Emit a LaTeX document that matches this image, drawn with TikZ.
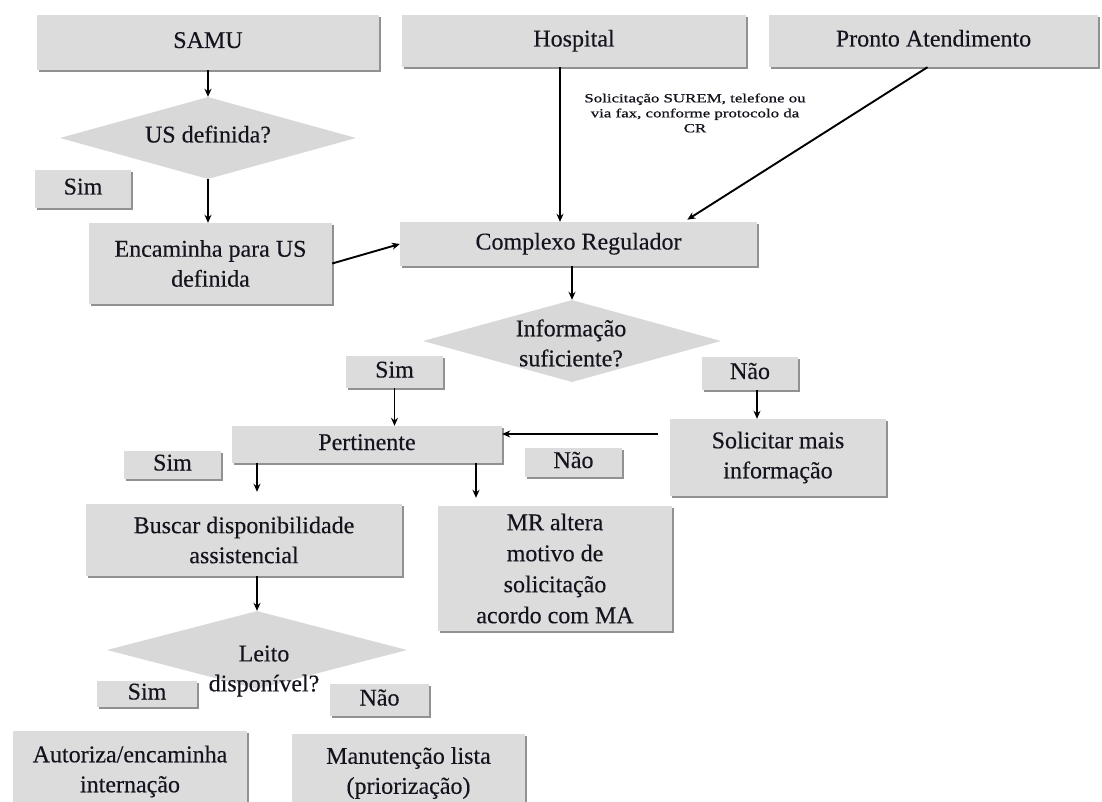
\documentclass[tikz,border=0pt]{standalone}
\usepackage{fontspec}
\setmainfont{Liberation Serif}[FakeBold=0.3]
\newfontfamily\notefont[FakeStretch=1.35,FakeBold=0.8]{Liberation Serif}
\usetikzlibrary{shapes.geometric,arrows.meta,shadows}
\definecolor{boxfill}{RGB}{220,220,220}
\definecolor{boxshadow}{RGB}{145,145,145}
\definecolor{dfill}{RGB}{216,216,216}
\definecolor{ink}{RGB}{20,20,30}
\tikzset{
  sz/.style 2 args={minimum width=#1pt, minimum height=#2pt},
  box/.style={rectangle, fill=boxfill, draw=none, inner sep=0pt, align=center,
    text=ink, font=\fontsize{24}{30}\selectfont,
    drop shadow={shadow xshift=1.5pt, shadow yshift=-2pt, fill=boxshadow, opacity=1}},
  one/.style={text height=16pt, text depth=5pt},
  dia/.style={diamond, fill=dfill, draw=none, inner sep=0pt},
  dtext/.style={align=center, text=ink, inner sep=0pt, font=\fontsize{24}{30}\selectfont},
  arr/.style={draw=black, line width=1.9pt, -{Stealth[length=8pt,width=7pt]}},
}
\begin{document}
\begin{tikzpicture}[x=1pt,y=-1pt]
\fill[white] (0,0) rectangle (1102,802);
\useasboundingbox (0,0) rectangle (1102,802);

% top row
\node[box, one, sz={342}{55}] (samu) at (208,42.5) {SAMU};
\node[box, one, sz={344}{52}] (hosp) at (574,41) {Hospital};
\node[box, one, sz={329}{52}] (pronto) at (933.5,41) {Pronto Atendimento};

% left branch
\node[dia, sz={296}{82}] (usdec) at (208,138) {};
\node[dtext, one] (usdect) at (208,137) {US definida?};
\node[box, one, sz={96}{38}] (sim1) at (83,189) {Sim};
\node[box, sz={243}{81}] (enc) at (210.5,263.5) {Encaminha para US\\definida};

% complexo regulador
\node[box, one, sz={357}{44}] (creg) at (578.5,244) {Complexo Regulador};
\node[align=center, text=ink, inner sep=0pt, font=\notefont\fontsize{12.5}{15}\selectfont] (note) at (695,113)
  {Solicitação SUREM, telefone ou\\via fax, conforme protocolo da\\CR};

% information decision
\node[dia, sz={298}{82}] (info) at (572,341) {};
\node[dtext] (infot) at (571,343) {Informação\\suficiente?};
\node[box, one, sz={97}{32}] (sim2) at (394.5,372) {Sim};
\node[box, one, sz={96}{33}] (nao1) at (750,373.5) {Não};
\node[box, sz={216}{77}] (solic) at (778,457.5) {Solicitar mais\\informação};

% pertinente
\node[box, one, sz={270}{37}] (pert) at (367,444.5) {Pertinente};
\node[box, one, sz={97}{28}] (sim3) at (172.5,465) {Sim};
\node[box, one, sz={97}{29}] (nao2) at (573.5,462.5) {Não};
\node[box, sz={316}{72}] (busc) at (244,540) {Buscar disponibilidade\\assistencial};
\node[box, sz={234}{125}, font=\fontsize{24}{31}\selectfont] (mr) at (555,568.5) {MR altera\\motivo de\\solicitação\\acordo com MA};

% leito decision
\node[dia, sz={300}{78}] (leito) at (257,650) {};
\node[box, one, sz={100}{26}] (sim4) at (147,694) {Sim};
\node[box, one, sz={99}{32}] (nao3) at (379.5,700) {Não};
\node[dtext] (leitot) at (264,671) {Leito\\disponível?};
\node[box, sz={234}{81}] (aut) at (130,771.5) {Autoriza/encaminha\\internação};
\node[box, sz={233}{78}] (man) at (408.5,773) {Manutenção lista\\(priorização)};

% connectors
\draw[arr] (samu.south) -- (usdec.north);
\draw[arr] (usdec.south) -- (usdec.south |- enc.north);
\draw[arr] (enc.east) -- (creg.west);
\draw[arr] ([xshift=-14pt]hosp.south) -- ([xshift=-14pt]hosp.south |- creg.north);
\draw[arr, shorten >=4pt] ([xshift=-6pt]pronto.south) -- ([xshift=105.5pt]creg.north);
\draw[arr] ([xshift=-6.5pt]creg.south) -- (info.north);
\draw[arr] (sim2.south) -- (sim2.south |- pert.north);
\draw[arr] ([xshift=7pt]nao1.south) -- ([xshift=7pt]nao1.south |- solic.north);
\coordinate (s1) at ([xshift=-12pt,yshift=23.5pt]solic.west);
\draw[arr] (s1) -- (s1 -| pert.east);
\draw[arr, shorten >=12pt] ([xshift=-110pt]pert.south) -- ([xshift=-110pt]pert.south |- busc.north);
\draw[arr, shorten >=8pt] ([xshift=109pt]pert.south) -- ([xshift=109pt]pert.south |- mr.north);
\draw[arr] ([xshift=13pt]busc.south) -- (leito.north);
\end{tikzpicture}
\end{document}
